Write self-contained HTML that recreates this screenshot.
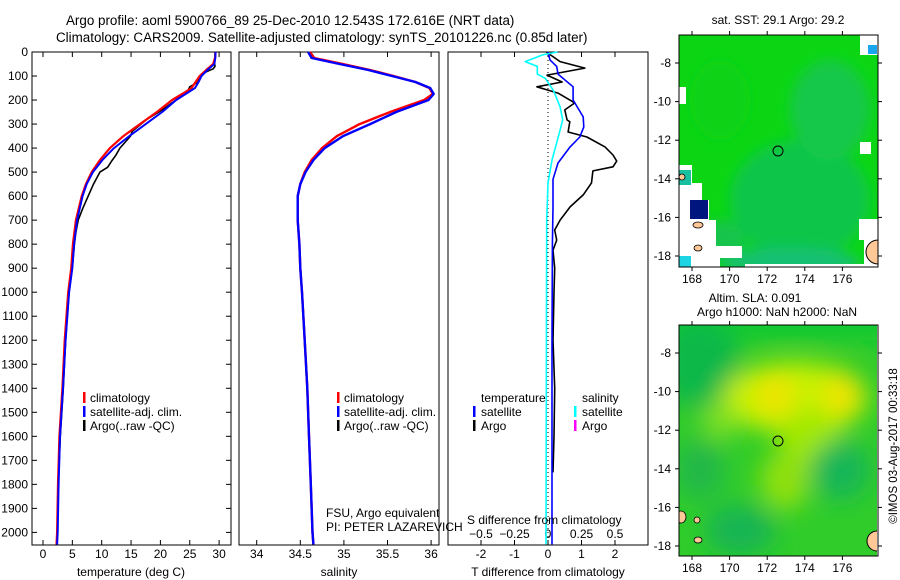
<!DOCTYPE html>
<html><head><meta charset="utf-8">
<style>
html,body{margin:0;padding:0;background:#fff;}
svg{display:block;font-family:"Liberation Sans",sans-serif;}
</style></head>
<body>
<svg id="fig" width="900" height="580" viewBox="0 0 900 580" xmlns="http://www.w3.org/2000/svg">
<defs>
  <filter id="blur1" x="-50%" y="-50%" width="200%" height="200%"><feGaussianBlur stdDeviation="12"/></filter>
  <filter id="blur2" x="-50%" y="-50%" width="200%" height="200%"><feGaussianBlur stdDeviation="6"/></filter>
  <clipPath id="clipTop"><rect x="679" y="35" width="199" height="232"/></clipPath>
  <clipPath id="clipBot"><rect x="679" y="325" width="198" height="231"/></clipPath>
</defs>
<g font-size="13.4" fill="#000">
  <text x="66" y="25">Argo profile: aoml 5900766_89 25-Dec-2010 12.543S 172.616E (NRT data)</text>
  <text x="56" y="42">Climatology: CARS2009. Satellite-adjusted climatology: synTS_20101226.nc (0.85d later)</text>
</g>
<g id="panels"></g>
<!-- top map: SST -->
<g clip-path="url(#clipTop)">
  <rect x="679" y="35" width="199" height="232" fill="#0cd614"/>
  <g filter="url(#blur2)">
    <ellipse cx="800" cy="200" rx="70" ry="60" fill="#10c648"/>
    <ellipse cx="830" cy="110" rx="40" ry="50" fill="#12c84a"/>
    <ellipse cx="790" cy="262" rx="70" ry="14" fill="#14c072"/>
    <ellipse cx="720" cy="240" rx="25" ry="20" fill="#14c44c"/>
    <ellipse cx="720" cy="100" rx="30" ry="40" fill="#10d218"/>
  </g>
  <rect x="745" y="264" width="133" height="4" fill="#fff"/>
  <polygon points="679,87 686,87 686,104 679,104" fill="#fff"/>
  <polygon points="679,165 692,165 692,183 702,183 702,200 709,200 709,220 716,220 716,246 742,246 742,258 720,258 720,267 679,267" fill="#fff"/>
  <rect x="690" y="200" width="18" height="19" fill="#00157e"/>
  <rect x="679" y="256" width="12" height="11" fill="#1cd4e4"/>
  <rect x="679" y="170" width="12" height="15" fill="#18c0a0"/>
  <polygon points="859,219 878,219 878,267 864,267 864,240 859,240" fill="#fff"/>
  <rect x="860" y="35" width="18" height="20" fill="#fff"/>
  <rect x="868" y="45" width="9" height="9" fill="#1aa6ee"/>
  <rect x="860" y="142" width="11" height="12" fill="#fff"/>
  <ellipse cx="878" cy="252" rx="12" ry="12" fill="#ffc896" stroke="#000" stroke-width="1"/>
  <ellipse cx="698" cy="225" rx="5" ry="3" fill="#ffc896" stroke="#000" stroke-width="0.8"/>
  <ellipse cx="698" cy="248" rx="4" ry="3" fill="#ffc896" stroke="#000" stroke-width="0.8"/>
  <ellipse cx="682" cy="177" rx="3" ry="3" fill="#ffc896" stroke="#000" stroke-width="0.8"/>
  <circle cx="778" cy="151" r="5" fill="none" stroke="#000" stroke-width="1"/>
</g>
<!-- bottom map: SLA -->
<g clip-path="url(#clipBot)">
  <rect x="679" y="325" width="198" height="231" fill="#30cc2a"/>
  <g filter="url(#blur1)">
    <rect x="660" y="305" width="240" height="35" fill="#10c830"/>
    <ellipse cx="700" cy="365" rx="40" ry="45" fill="#0cb84a"/>
    <ellipse cx="795" cy="398" rx="72" ry="36" fill="#c8f000"/>
    <ellipse cx="810" cy="440" rx="30" ry="30" fill="#a0e800"/>
    <ellipse cx="785" cy="480" rx="25" ry="30" fill="#90e010"/>
    <ellipse cx="775" cy="395" rx="18" ry="22" fill="#f0e400"/>
    <ellipse cx="843" cy="395" rx="18" ry="24" fill="#f0e400"/>
    <ellipse cx="840" cy="470" rx="30" ry="30" fill="#12b658"/>
    <ellipse cx="740" cy="530" rx="35" ry="25" fill="#12b454"/>
    <ellipse cx="700" cy="470" rx="25" ry="30" fill="#20b84a"/>
    <ellipse cx="720" cy="420" rx="18" ry="20" fill="#80e020"/>
  </g>
  <ellipse cx="877" cy="541" rx="10" ry="10" fill="#ffc896" stroke="#000" stroke-width="1"/>
  <ellipse cx="681" cy="517" rx="5" ry="6" fill="#ffc896" stroke="#000" stroke-width="0.8"/>
  <ellipse cx="698" cy="540" rx="4" ry="3" fill="#ffc896" stroke="#000" stroke-width="0.8"/>
  <ellipse cx="697" cy="520" rx="3" ry="3" fill="#ffc896" stroke="#000" stroke-width="0.8"/>
  <circle cx="778" cy="441" r="5" fill="none" stroke="#000" stroke-width="1"/>
</g>
<g font-size="12" text-anchor="middle">
  <text x="778" y="24">sat. SST: 29.1 Argo: 29.2</text>
  <text x="755" y="302">Altim. SLA: 0.091</text>
  <text x="777" y="316">Argo h1000: NaN h2000: NaN</text>
  <text transform="translate(897,446) rotate(-90)" font-size="11.5">©IMOS 03-Aug-2017 00:33:18</text>
</g>
<g id="maps-axes"></g>
</svg>
<script>
// ---- profile data ----
const climDepths = [0,25,50,75,100,125,150,175,200,250,300,350,400,450,500,550,600,700,800,900,1000,1200,1400,1600,1800,2000,2050];
const climTemp = [29.4,29.3,29.0,27.8,26.7,26.0,25.3,23.7,22.0,19.4,16.5,13.7,11.4,9.7,8.3,7.3,6.6,5.6,5.1,4.8,4.3,3.7,3.3,2.8,2.55,2.4,2.3];
const satTemp = [29.4,29.35,29.2,28.0,27.0,26.5,25.9,24.3,22.7,20.3,17.5,14.7,12.1,10.1,8.5,7.45,6.75,5.8,5.3,5.0,4.45,3.85,3.4,2.9,2.65,2.5,2.4];
const argoDepths = [0,20,40,60,70,90,100,125,145,170,210,240,280,330,350,400,430,450,480,500,550,600,650,700,750,800,900,1000,1200,1400,1600,1750];
const argoTemp = [29.3,29.3,29.2,29.3,29.0,27.1,26.7,26.4,25.0,24.5,22.1,20.4,17.7,15.2,14.9,13.1,12.4,11.8,11.0,9.7,8.6,7.7,6.8,6.0,5.6,5.35,5.0,4.45,3.85,3.45,2.95,2.7];
const climSal = [34.61,34.66,34.99,35.3,35.57,35.82,35.98,36.02,35.92,35.53,35.18,34.92,34.75,34.63,34.55,34.5,34.47,34.47,34.49,34.5,34.52,34.55,34.58,34.6,34.62,34.64,34.65];
const satSal = [34.59,34.63,34.95,35.28,35.55,35.82,35.99,36.03,35.97,35.6,35.3,34.99,34.78,34.65,34.56,34.5,34.47,34.47,34.49,34.5,34.52,34.55,34.58,34.6,34.62,34.64,34.65];
const argoDiffDepths = [0,40,67,96,125,145,171,212,241,283,290,333,354,395,429,454,478,495,545,595,645,700,741,783,825,900,1000,1200,1400,1600,1750];
const argoTDiff = [-0.05,0.36,1.1,-0.03,0.42,-0.33,0.3,0.8,0.5,0.57,0.65,0.6,1.16,1.7,1.94,2.05,1.94,1.34,1.3,1.05,0.66,0.36,0.2,0.26,0.15,0.2,0.18,0.15,0.2,0.18,0.15];
const satTDiffDepths = [0,33,60,92,145,200,270,312,354,395,462,530,645,800,1200,2050];
const satTDiff = [0,0.06,0.26,0.3,0.75,0.75,1.05,1.07,0.95,0.66,0.3,0.15,0.15,0.13,0.12,0.12];
const satSDiffDepths = [0,12,40,60,92,110,160,228,283,367,450,545,700,2050];
const satSDiff = [0.07,-0.04,-0.17,-0.08,-0.08,-0.02,0.04,0.09,0.11,0.07,0.03,0,-0.01,-0.015];
const depthTicks = [0,100,200,300,400,500,600,700,800,900,1000,1100,1200,1300,1400,1500,1600,1700,1800,1900,2000];
const tempTicks = [0,5,10,15,20,25,30];
const salTicks = [34,34.5,35,35.5,36];
const tDiffTicks = [-2,-1,0,1,2];
const sDiffTicks = [-0.5,-0.25,0,0.25,0.5];
const lonTicks = [168,170,172,174,176];
const latTicksTop = [-8,-10,-12,-14,-16,-18];
const latTicksBot = [-8,-10,-12,-14,-16,-18];

// ---- axes ----
const Y0 = 52, Y1 = 545;
const yD = d => Y0 + d * 0.2402;
const xT = t => 43 + t * 5.87;
const xS = s => 256.7 + (s - 34) * 87.2;
const xTD = v => 548 + v * 33.5;
const xSD = v => 548 + v * 134;
const lonX = lon => 692 + (lon - 168) * 18.8;
const latYTop = lat => 63 + (-8 - lat) * 19.3;
const latYBot = lat => 353 + (-8 - lat) * 19.3;

const NS = "http://www.w3.org/2000/svg";
const root = document.getElementById('panels');
function mk(tag, attrs, parent) {
  const e = document.createElementNS(NS, tag);
  for (const k in attrs) e.setAttribute(k, attrs[k]);
  (parent || root).appendChild(e);
  return e;
}
function txt(x, y, s, anchor, size, parent) {
  const t = mk('text', {x: x, y: y, 'text-anchor': anchor || 'start', 'font-size': size || 12}, parent);
  t.textContent = s;
  return t;
}
function line(depths, vals, fx, color, w, name) {
  const pts = depths.map((d, i) => fx(vals[i]).toFixed(1) + ',' + yD(d).toFixed(1)).join(' ');
  const p = mk('polyline', {points: pts, fill: 'none', stroke: color, 'stroke-width': w, 'stroke-linejoin': 'round'});
  
  
  return p;
}
function frame(x0, x1, name) {
  const r = mk('rect', {x: x0, y: Y0, width: x1 - x0, height: Y1 - Y0, fill: 'none', stroke: '#000', 'stroke-width': 1});
  
  
}
function xticks(vals, fx, labY, fmt, name) {
  const g = mk('g', {});
  
  
  vals.forEach(v => {
    const x = fx(v);
    mk('line', {x1: x, x2: x, y1: Y0, y2: Y0 + 5, stroke: '#000'}, g);
    mk('line', {x1: x, x2: x, y1: Y1, y2: Y1 - 5, stroke: '#000'}, g);
    if (labY) txt(x, labY, fmt ? fmt(v) : String(v), 'middle', 12, g);
  });
}
// Panel 1: temperature
frame(32, 231, 'temperature-panel');
(function(){
  const g = mk('g', {});
  
  
  depthTicks.forEach(d => {
    const y = yD(d);
    mk('line', {x1: 32, x2: 37, y1: y, y2: y, stroke: '#000'}, g);
    mk('line', {x1: 231, x2: 226, y1: y, y2: y, stroke: '#000'}, g);
    txt(28, y + 4, String(d), 'end', 12, g);
  });
})();
xticks(tempTicks, xT, 558, null, 'temperature-x-axis');
txt(131, 576, 'temperature (deg C)', 'middle', 12);
line(argoDepths, argoTemp, xT, '#000', 1.6, 'argo-temperature-line');
line(climDepths, climTemp, xT, '#f00', 2.2, 'climatology-temperature-line');
line(climDepths, satTemp, xT, '#00f', 2, 'satellite-temperature-line');

// Panel 2: salinity
frame(239, 439, 'salinity-panel');
xticks(salTicks, xS, 558, null, 'salinity-x-axis');
txt(339, 576, 'salinity', 'middle', 12);
line(climDepths, climSal, xS, '#f00', 2.4, 'climatology-salinity-line');
line(climDepths, satSal, xS, '#00f', 2.4, 'satellite-salinity-line');

// legends
function legend(x, items, name) {
  const g = mk('g', {});
  
  
  items.forEach((it, i) => {
    const y = 398 + i * 14;
    mk('rect', {x: x, y: y - 6, width: 2.5, height: 11, fill: it[1]}, g);
    txt(x + 7, y + 4, it[0], 'start', 12, g);
  });
}
legend(83, [['climatology', '#f00'], ['satellite-adj. clim.', '#00f'], ['Argo(..raw -QC)', '#000']], 'temperature-legend');
legend(337, [['climatology', '#f00'], ['satellite-adj. clim.', '#00f'], ['Argo(..raw -QC)', '#000']], 'salinity-legend');
txt(326, 517, 'FSU, Argo equivalent', 'start', 12);
txt(326, 531, 'PI: PETER LAZAREVICH', 'start', 12);

// Panel 3: differences
frame(448, 648, 'difference-panel');
mk('line', {x1: 548, x2: 548, y1: Y0, y2: Y1, stroke: '#000', 'stroke-dasharray': '1,3'});
xticks(tDiffTicks, xTD, 558, null, 't-diff-x-axis');
(function(){
  const g = mk('g', {});
  
  
  sDiffTicks.forEach(v => txt(xSD(v), 538, String(v).replace('-', '\u2212'), 'middle', 12, g));
})();
line(argoDiffDepths, argoTDiff, xTD, '#000', 1.6, 'argo-t-diff-line');
line(satTDiffDepths, satTDiff, xTD, '#00f', 1.6, 'satellite-t-diff-line');
line(satSDiffDepths, satSDiff, xSD, '#0ff', 1.6, 'satellite-s-diff-line');
txt(467, 524, 'S difference from climatology', 'start', 12);
txt(548, 576, 'T difference from climatology', 'middle', 12);
(function(){
  const g = mk('g', {});
  
  
  txt(481, 402, 'temperature', 'start', 12, g);
  txt(582, 402, 'salinity', 'start', 12, g);
  [['satellite', '#00f', 473], ['Argo', '#000', 473]].forEach((it, i) => {
    const y = 412 + i * 14;
    mk('rect', {x: it[2], y: y - 6, width: 2.5, height: 11, fill: it[1]}, g);
    txt(481, y + 4, it[0], 'start', 12, g);
  });
  [['satellite', '#0ff'], ['Argo', '#f0f']].forEach((it, i) => {
    const y = 412 + i * 14;
    mk('rect', {x: 574, y: y - 6, width: 2.5, height: 11, fill: it[1]}, g);
    txt(582, y + 4, it[0], 'start', 12, g);
  });
})();

// Map axes
const ma = document.getElementById('maps-axes');
function mapAxes(y0, y1, latY, lats, name) {
  const g = mk('g', {}, ma);
  
  
  mk('rect', {x: 679, y: y0, width: 199, height: y1 - y0, fill: 'none', stroke: '#000'}, g);
  lonTicks.forEach(l => {
    const x = lonX(l);
    mk('line', {x1: x, x2: x, y1: y0, y2: y0 - 4, stroke: '#000'}, g);
    mk('line', {x1: x, x2: x, y1: y1, y2: y1 + 4, stroke: '#000'}, g);
    txt(x, y1 + 16, String(l), 'middle', 12, g);
  });
  lats.forEach(l => {
    const y = latY(l);
    mk('line', {x1: 679, x2: 675, y1: y, y2: y, stroke: '#000'}, g);
    mk('line', {x1: 878, x2: 882, y1: y, y2: y, stroke: '#000'}, g);
    txt(671, y + 4, String(l), 'end', 12, g);
  });
}
mapAxes(35, 267, latYTop, latTicksTop, 'sst-map-axes');
mapAxes(325, 556, latYBot, latTicksBot, 'sla-map-axes');
</script>
</body></html>
